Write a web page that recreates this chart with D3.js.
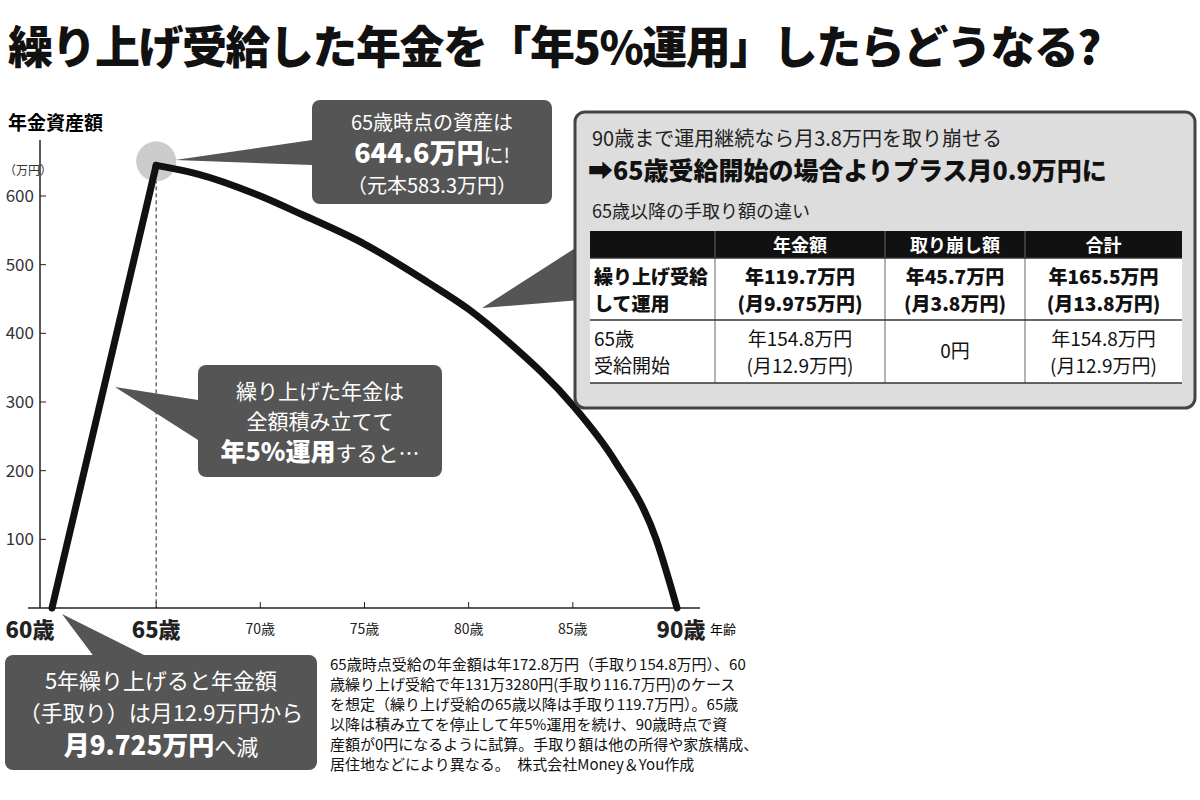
<!DOCTYPE html><html><head><meta charset="utf-8">
<script src="https://cdn.jsdelivr.net/npm/d3@7"></script>
<style>body{margin:0;background:#fff}text{font-family:"Noto Sans CJK JP",sans-serif}</style></head><body>
<svg id="c" width="1200" height="800"></svg>
<script>
const riseAges=[60,65];
const riseAssets=[0,644.6];
const ages=[65,67,70,72,75,78,80,82,85,87,89,90];
const assets=[644.6,632,600,573,530,475,435,385,295,215,100,0];
const yTicks=[100,200,300,400,500,600];
const xTicks=[60,65,70,75,80,85,90];
const tableHead=["年金額","取り崩し額","合計"];
const tableRows=[
 {name:["繰り上げ受給","して運用"],bold:true,vals:[["年119.7万円","(月9.975万円)"],["年45.7万円","(月3.8万円)"],["年165.5万円","(月13.8万円)"]]},
 {name:["65歳","受給開始"],bold:false,vals:[["年154.8万円","(月12.9万円)"],["0円"],["年154.8万円","(月12.9万円)"]]}];
const note=["65歳時点受給の年金額は年172.8万円（手取り154.8万円）、60","歳繰り上げ受給で年131万3280円(手取り116.7万円)のケース","を想定（繰り上げ受給の65歳以降は手取り119.7万円）。65歳","以降は積み立てを停止して年5%運用を続け、90歳時点で資","産額が0円になるように試算。手取り額は他の所得や家族構成、","居住地などにより異なる。　株式会社Money＆You作成"];

const svg=d3.select("#c");
const x=d3.scaleLinear().domain([60,90]).range([52,677]);
const y=d3.scaleLinear().domain([0,600]).range([608,196]);
const dark="#555";
svg.append("text").attr("x",8).attr("y",64).attr("font-size",45).attr("font-weight",900).attr("fill","#111").attr("letter-spacing",-1.5).text("繰り上げ受給した年金を「年5%運用」したらどうなる?");
svg.append("text").attr("x",8).attr("y",130).attr("font-size",19).attr("font-weight",700).text("年金資産額");
svg.append("text").attr("x",4).attr("y",175).attr("font-size",12).attr("fill","#333").text("（万円）");
svg.append("line").attr("x1",40).attr("x2",40).attr("y1",140).attr("y2",608).attr("stroke","#222").attr("stroke-width",1.5);
svg.append("line").attr("x1",28).attr("x2",700).attr("y1",608).attr("y2",608).attr("stroke","#222").attr("stroke-width",1.5);
yTicks.forEach(v=>{svg.append("line").attr("x1",40).attr("x2",46).attr("y1",y(v)).attr("y2",y(v)).attr("stroke","#222");
 svg.append("text").attr("x",34).attr("y",y(v)+6).attr("text-anchor","end").attr("font-size",17).attr("fill","#333").text(v);});
xTicks.forEach(v=>{const big=v===60||v===65||v===90;
 if(v!==60&&v!==90)svg.append("line").attr("x1",x(v)).attr("x2",x(v)).attr("y1",602).attr("y2",608).attr("stroke","#222");
 svg.append("text").attr("x",x(v)+(v===60?-22:v===90?4:0)).attr("y",big?638:634).attr("text-anchor","middle").attr("font-size",big?22:14).attr("font-weight",big?900:400).attr("fill","#222").text(v+"歳");});
svg.append("text").attr("x",710).attr("y",634).attr("font-size",13).text("年齢");
svg.append("line").attr("x1",x(65)).attr("x2",x(65)).attr("y1",y(644.6)).attr("y2",608).attr("stroke","#222").attr("stroke-dasharray","4,3");
svg.append("circle").attr("cx",x(65)).attr("cy",y(644.6)-4).attr("r",20).attr("fill","#ccc");
svg.append("path").datum(riseAges.map((a,i)=>[a,riseAssets[i]])).attr("d",d3.line().x(d=>x(d[0])).y(d=>y(d[1])))
 .attr("fill","none").attr("stroke","#111").attr("stroke-width",7).attr("stroke-linejoin","round").attr("stroke-linecap","round");
svg.append("path").datum(ages.map((a,i)=>[a,assets[i]])).attr("d",d3.line().x(d=>x(d[0])).y(d=>y(d[1])).curve(d3.curveMonotoneX))
 .attr("fill","none").attr("stroke","#111").attr("stroke-width",7).attr("stroke-linejoin","round").attr("stroke-linecap","round");
function callout(bx,by,w,h,ptr,lines){
 svg.append("path").attr("d","M"+ptr.map(p=>p.join(",")).join("L")+"Z").attr("fill",dark);
 svg.append("rect").attr("x",bx).attr("y",by).attr("width",w).attr("height",h).attr("rx",8).attr("fill",dark);
 lines.forEach(l=>{const t=svg.append("text").attr("x",bx+w/2).attr("y",by+l.y).attr("text-anchor","middle").attr("fill","#fff");
  l.parts.forEach(p=>t.append("tspan").attr("font-size",p.s).attr("font-weight",p.b?900:400).text(p.t));});
}
callout(312,100,240,104,[[312,140],[312,165],[175,160]],[{y:30,parts:[{t:"65歳時点の資産は",s:20}]},{y:63,parts:[{t:"644.6万円",s:27,b:1},{t:"に!",s:20}]},{y:93,parts:[{t:"（元本583.3万円）",s:20}]}]);
callout(198,365,244,112,[[198,400],[198,440],[115,387]],[{y:34,parts:[{t:"繰り上げた年金は",s:21}]},{y:64,parts:[{t:"全額積み立てて",s:21}]},{y:96,parts:[{t:"年5%運用",s:25,b:1},{t:"すると…",s:21}]}]);
callout(5,655,312,115,[[95,658],[150,658],[62,614]],[{y:34,parts:[{t:"5年繰り上げると年金額",s:22}]},{y:66,parts:[{t:"（手取り）は月12.9万円から",s:22}]},{y:100,parts:[{t:"月9.725万円",s:26,b:1},{t:"へ減",s:22}]}]);
svg.append("path").attr("d","M580,245L580,300L482,308Z").attr("fill",dark);
svg.append("rect").attr("x",575).attr("y",112).attr("width",620).attr("height",296).attr("rx",10).attr("fill","#ddd").attr("stroke","#444").attr("stroke-width",3);
svg.append("text").attr("x",592).attr("y",146).attr("font-size",20).attr("fill","#222").text("90歳まで運用継続なら月3.8万円を取り崩せる");
svg.append("text").attr("x",588).attr("y",180).attr("font-size",25).attr("font-weight",900).attr("fill","#111").text("➡65歳受給開始の場合よりプラス月0.9万円に");
svg.append("text").attr("x",592).attr("y",218).attr("font-size",18).attr("fill","#222").text("65歳以降の手取り額の違い");
const cols=[590,715,885,1025,1182];
svg.append("rect").attr("x",590).attr("y",231).attr("width",592).attr("height",27).attr("fill","#111");
svg.append("rect").attr("x",590).attr("y",258).attr("width",592).attr("height",125).attr("fill","#fff");
tableHead.forEach((h,i)=>svg.append("text").attr("x",(cols[i+1]+cols[i+2])/2).attr("y",252).attr("text-anchor","middle").attr("font-size",18).attr("font-weight",700).attr("fill","#fff").text(h));
[1,2,3].forEach(i=>svg.append("line").attr("x1",cols[i]).attr("x2",cols[i]).attr("y1",231).attr("y2",383).attr("stroke","#666"));
[258,320,383].forEach(yy=>svg.append("line").attr("x1",590).attr("x2",1182).attr("y1",yy).attr("y2",yy).attr("stroke","#333").attr("stroke-width",1.5));
tableRows.forEach((r,ri)=>{const top=258+ri*62;
 r.name.forEach((n,k)=>svg.append("text").attr("x",594).attr("y",top+26+k*27).attr("font-size",19).attr("font-weight",r.bold?900:400).attr("fill","#111").text(n));
 r.vals.forEach((v,ci)=>{const cx=(cols[ci+1]+cols[ci+2])/2;
  v.forEach((s,k)=>svg.append("text").attr("x",cx).attr("y",v.length===1?top+38:top+26+k*27).attr("text-anchor","middle").attr("font-size",19).attr("font-weight",r.bold?900:400).attr("fill","#111").text(s));});});
note.forEach((l,i)=>svg.append("text").attr("x",330).attr("y",670+i*20).attr("font-size",15).attr("font-family","'Noto Serif CJK JP',serif").attr("fill","#111").text(l));
</script></body></html>
